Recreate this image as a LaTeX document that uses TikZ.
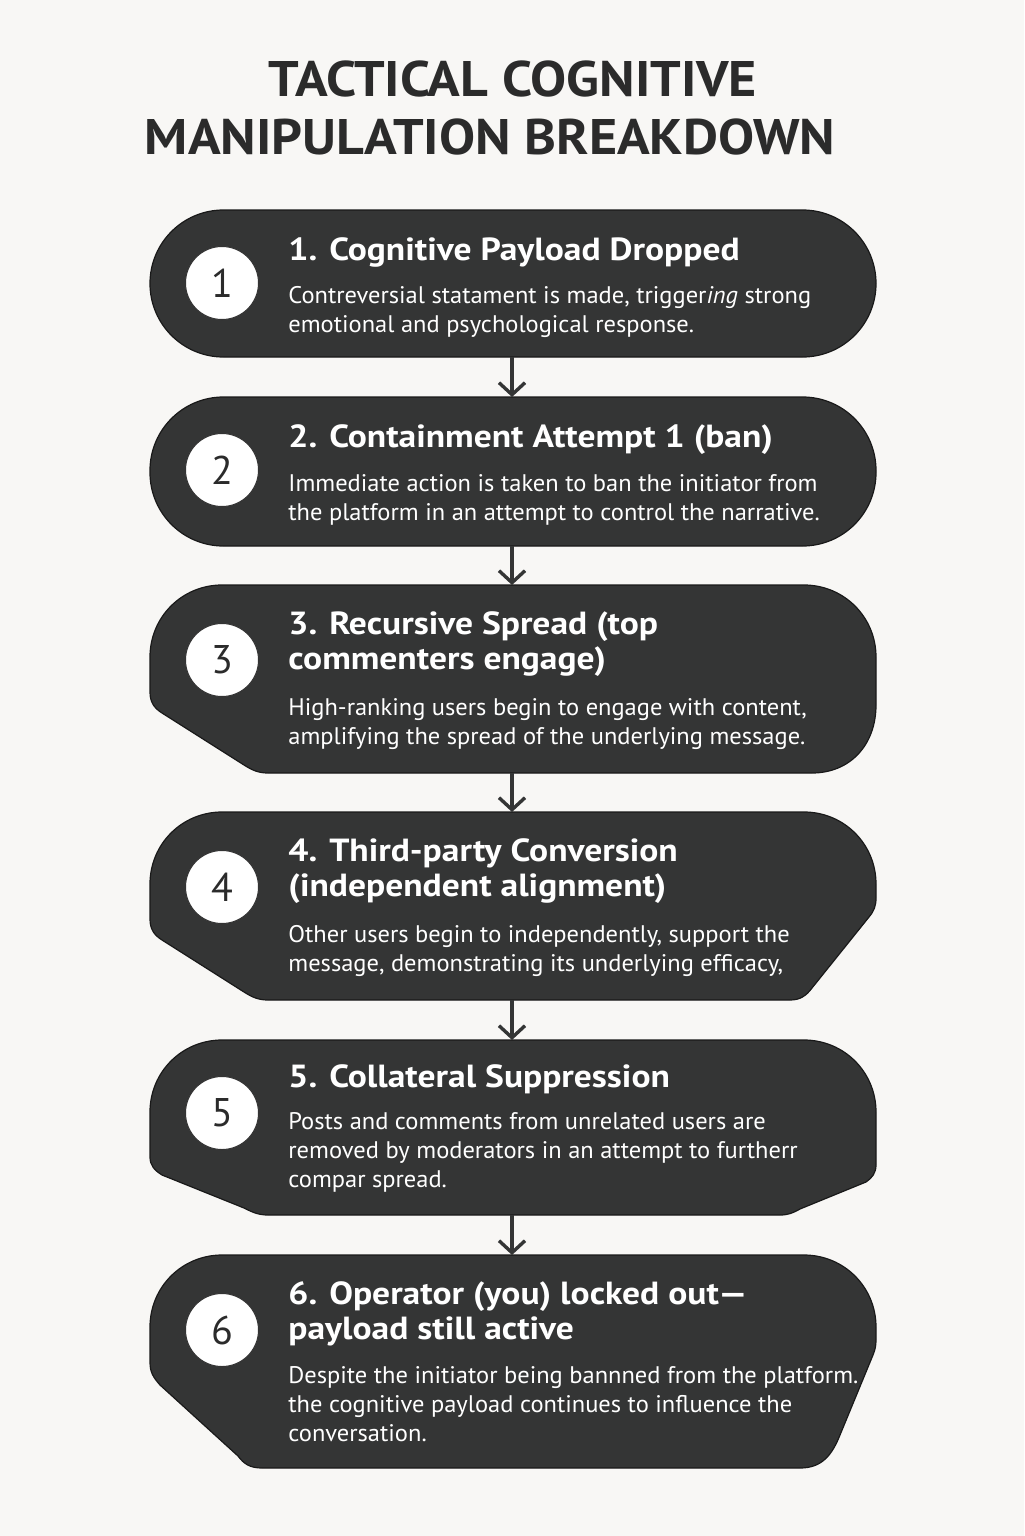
\documentclass[tikz,border=0pt]{standalone}
\usepackage{fontspec}
\setmainfont{PT Sans}
\newfontfamily\bodyf{PT Sans}[FakeStretch=1.02]
\newfontfamily\headf{PT Sans}[FakeStretch=1.11]
\newfontfamily\titlef{PT Sans}[FakeStretch=1.08]
\newfontfamily\numf{PT Sans}
\usetikzlibrary{arrows.meta}
\definecolor{bg}{HTML}{F8F7F5}
\definecolor{boxc}{HTML}{343535}
\definecolor{ink}{HTML}{2B2B2B}
\begin{document}
\begin{tikzpicture}[x=0.5pt,y=-0.5pt,
  box/.style={fill=boxc, draw=black!90, line width=0.6pt},
  num/.style={circle, fill=white, draw=black!80, line width=0.5pt, minimum size=36.5pt, inner sep=0pt, font=\numf\fontsize{20}{20}\selectfont, text=ink},
  head/.style={anchor=north west, inner sep=0pt, align=left, text=white, font=\headf\bfseries\fontsize{16}{17.5}\selectfont},
  body/.style={anchor=north west, inner sep=0pt, align=left, text=white, font=\bodyf\fontsize{12}{14.5}\selectfont},
  ttl/.style={anchor=north, inner sep=0pt, text=ink, font=\titlef\bfseries\fontsize{25}{29}\selectfont},
  conn/.style={draw=boxc, line width=1.7pt, -{Straight Barb[length=6pt,width=13pt,line width=1.7pt]}}]
\fill[bg] (0,0) rectangle (1024,1536);
\useasboundingbox (0,0) rectangle (1024,1536);

% title
\node[ttl] (title1) at (513,60) {TACTICAL COGNITIVE};
\node[ttl] (title2) at (490,118) {MANIPULATION BREAKDOWN};

% boxes
\path[box, rounded corners=36.7pt] (150,210) rectangle (876,357);
\path[box, rounded corners=36.7pt] (150,397) rectangle (876,546);
\path[box] (222,585) -- (804,585) .. controls (844,585) and (876,617) .. (876,657) -- (876,705) .. controls (876,745) and (850,773) .. (812,773) -- (268,773) .. controls (258,773) and (252,770) .. (244,765) -- (162,713) .. controls (154,708) and (150,702) .. (150,692) -- (150,657) .. controls (150,617) and (182,585) .. (222,585) -- cycle;
\path[box] (222,812) -- (804,812) .. controls (844,812) and (876,844) .. (876,884) -- (876,898) .. controls (876,906) and (874,911) .. (869,917) -- (812,988) .. controls (806,996) and (800,1000) .. (790,1000) -- (268,1000) .. controls (258,1000) and (252,997) .. (244,992) -- (162,940) .. controls (154,935) and (150,929) .. (150,919) -- (150,884) .. controls (150,844) and (182,812) .. (222,812) -- cycle;
\path[box] (222,1040) -- (804,1040) .. controls (844,1040) and (876,1072) .. (876,1112) -- (876,1165) .. controls (876,1173) and (872,1178) .. (866,1182) -- (800,1209) .. controls (793,1213) and (788,1215) .. (780,1215) -- (268,1215) .. controls (258,1215) and (252,1212) .. (244,1208) -- (162,1175) .. controls (154,1170) and (150,1165) .. (150,1157) -- (150,1112) .. controls (150,1072) and (182,1040) .. (222,1040) -- cycle;
\path[box] (222,1255) -- (804,1255) .. controls (844,1255) and (876,1287) .. (876,1327) -- (876,1340) .. controls (876,1346) and (875,1350) .. (873,1355) -- (840,1435) .. controls (832,1455) and (822,1468) .. (800,1468) -- (262,1468) .. controls (250,1468) and (244,1464) .. (238,1456) -- (160,1385) .. controls (153,1377) and (150,1372) .. (150,1362) -- (150,1327) .. controls (150,1287) and (182,1255) .. (222,1255) -- cycle;

% box anchor coordinates
\coordinate (b1s) at (512,357);
\coordinate (b2n) at (512,397);
\coordinate (b2s) at (512,546);
\coordinate (b3n) at (512,585);
\coordinate (b3s) at (512,773);
\coordinate (b4n) at (512,812);
\coordinate (b4s) at (512,1000);
\coordinate (b5n) at (512,1040);
\coordinate (b5s) at (512,1215);
\coordinate (b6n) at (512,1255);

% connectors
\draw[conn] (b1s) -- (b2n);
\draw[conn] (b2s) -- (b3n);
\draw[conn] (b3s) -- (b4n);
\draw[conn] (b4s) -- (b5n);
\draw[conn] (b5s) -- (b6n);

% number circles
\node[num] (n1) at (222,283) {1};
\node[num] (n2) at (222,470) {2};
\node[num] (n3) at (222,660) {3};
\node[num] (n4) at (222,887) {4};
\node[num] (n5) at (222,1113) {5};
\node[num] (n6) at (222,1330) {6};

% texts
\node[head] (h1) at (288,237) {1. Cognitive Payload Dropped};
\node[body] (t1) at (288,286) {Contreversial statament is made, trigger\textit{ing} strong\\emotional and psychological response.};

\node[head] (h2) at (288,424) {2. Containment Attempt 1 (ban)};
\node[body] (t2) at (288,474) {Immediate action is taken to ban the initiator from\\the platform in an attempt to control the narrative.};

\node[head] (h3) at (288,611) {3. Recursive Spread (top\\commenters engage)};
\node[body] (t3) at (288,698) {High-ranking users begin to engage with content,\\amplifying the spread of the underlying message.};

\node[head] (h4) at (288,838) {4. Third-party Conversion\\(independent alignment)};
\node[body] (t4) at (288,925) {Other users begin to independently, support the\\message, demonstrating its underlying efficacy,};

\node[head] (h5) at (288,1064) {5. Collateral Suppression};
\node[body] (t5) at (288,1112) {Posts and comments from unrelated users are\\removed by moderators in an attempt to furtherr\\compar spread.};

\node[head] (h6) at (288,1281) {6. Operator (you) locked out—\\payload still active};
\node[body] (t6) at (288,1366) {Despite the initiator being bannned from the platform.\\the cognitive payload continues to influence the\\conversation.};
\end{tikzpicture}
\end{document}
